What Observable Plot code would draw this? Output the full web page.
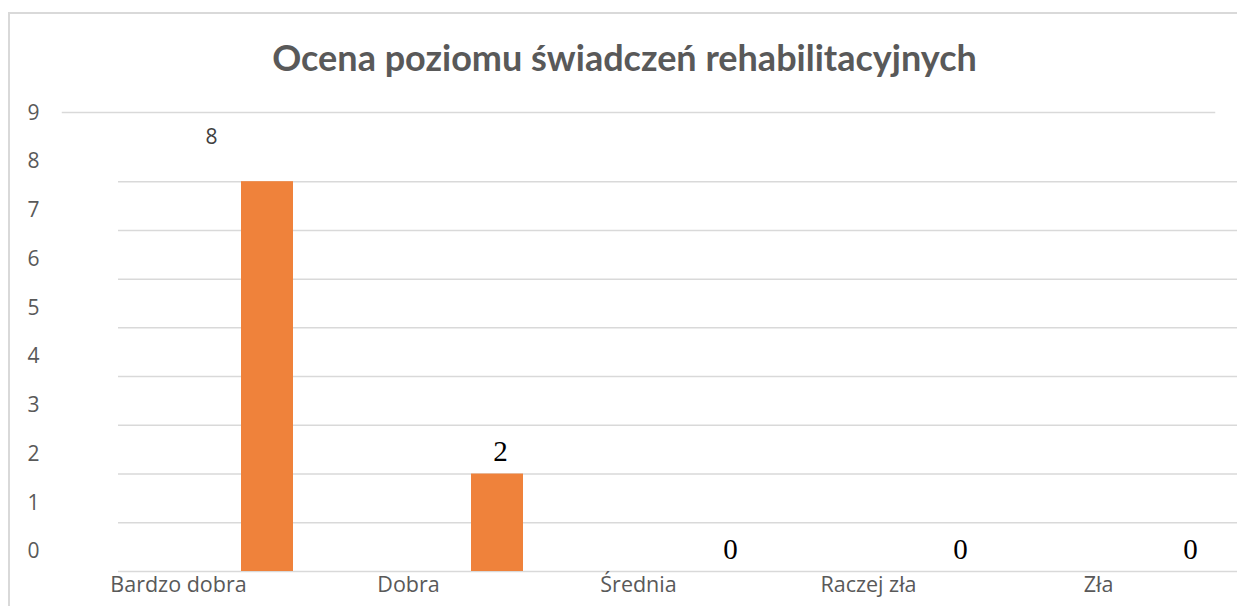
<!DOCTYPE html>
<html>
<head>
<meta charset="utf-8">
<script src="https://cdn.jsdelivr.net/npm/d3@7"></script>
<script src="https://cdn.jsdelivr.net/npm/@observablehq/plot@0.6"></script>
<style>
  html, body { margin: 0; padding: 0; background: #fff; }
  #wrap { position: relative; width: 1237px; height: 606px; overflow: hidden; }
  #border { position: absolute; left: 8px; top: 12px; width: 1300px; height: 700px;
            border-left: 2px solid #d9d9d9; border-top: 2px solid #d9d9d9; }
  #chart { position: absolute; left: 0; top: 0; }
</style>
</head>
<body>
<div id="wrap"><div id="border"></div><div id="chart"></div></div>
<script>
const title = "Ocena poziomu świadczeń rehabilitacyjnych";
const categories = ["Bardzo dobra", "Dobra", "Średnia", "Raczej zła", "Zła"];
const values = [8, 2, 0, 0, 0];
const yTicks = [0, 1, 2, 3, 4, 5, 6, 7, 8, 9];
const gridValues = [0, 1, 2, 3, 4, 5, 6, 7, 8];

const data = categories.map((c, i) => ({category: c, value: values[i], idx: i}));
const grey = "#595959";

const chart = Plot.plot({
  width: 1237,
  height: 606,
  marginLeft: 62,
  marginRight: 23,
  marginTop: 112,
  marginBottom: 35,
  style: {background: "transparent", overflow: "visible"},
  x: {domain: categories, paddingInner: 0.774, paddingOuter: 0.387, align: 0.5, label: null},
  y: {domain: [0, 9.42], label: null},
  marks: [
    Plot.ruleY(gridValues, {stroke: "#d9d9d9", strokeWidth: 1.5, insetLeft: 56, insetRight: -23}),
    Plot.frame({anchor: "top", stroke: "#d9d9d9", strokeWidth: 1.5}),
    Plot.barY(data, {x: "category", y: "value", fill: "#ef823b", dx: 89}),
    Plot.axisY(yTicks, {tickSize: 0, tickPadding: 23, dy: -20, fontSize: 21, fill: grey,
      fontFamily: "Open Sans", label: null}),
    Plot.axisX({tickSize: 0, tickPadding: 5, fontSize: 21.5, fill: grey, fontFamily: "Open Sans",
      label: null}),
    Plot.text(data.filter(d => d.idx === 0), {x: "category", y: "value", text: d => String(d.value),
      dx: 33, dy: -44, fontSize: 21, fill: "#404040", fontFamily: "Open Sans"}),
    Plot.text(data.filter(d => d.idx > 0), {x: "category", y: "value", text: d => String(d.value),
      dx: 92, dy: -22, fontSize: 29, fill: "#000", fontFamily: "Liberation Serif"}),
    Plot.text([title], {frameAnchor: "top", lineAnchor: "middle", dx: -14, dy: -53, fontSize: 36,
      fontWeight: "bold", fill: grey, fontFamily: "Lato", text: d => d})
  ]
});
document.getElementById("chart").appendChild(chart);
</script>
</body>
</html>
